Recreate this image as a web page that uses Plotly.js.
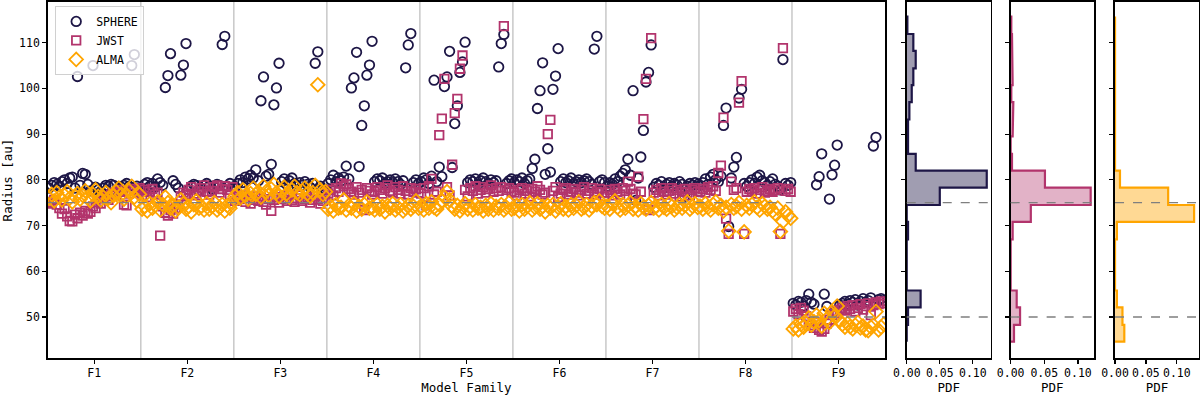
<!DOCTYPE html>
<html><head><meta charset="utf-8">
<script src="https://cdn.plot.ly/plotly-3.0.1.min.js"></script>
<style>body{margin:0;background:#fff}#chart{width:1200px;height:397px}</style>
</head><body><div id="chart"></div>
<script>
const families = ['F1','F2','F3','F4','F5','F6','F7','F8','F9'];
const modelsPerFamily = 36;

const sphere = [
 78.2,78.8,79.4,79.0,78.6,79.6,80.0,79.2,80.4,80.6,78.2,102.6,78.8,81.4,81.2,79.0,77.6,105.0,78.4,77.8,77.4,78.2,78.8,78.6,79.0,78.8,77.6,78.0,78.4,78.8,79.2,78.6,105.0,107.4,78.6,77.8,
 78.2,79.0,79.4,78.6,79.2,78.4,80.2,79.4,78.8,100.2,102.8,107.6,79.8,79.0,78.2,102.9,105.1,109.8,77.8,78.6,79.0,78.8,77.6,78.2,78.8,79.2,78.6,78.0,78.4,79.0,78.8,109.6,111.4,78.6,79.2,78.4,
 78.4,79.2,80.0,79.4,80.6,80.2,81.0,80.4,82.2,79.8,97.3,102.5,80.8,81.2,83.4,96.4,100.1,105.5,79.6,80.2,79.0,79.8,80.4,79.2,78.6,79.4,78.8,79.6,79.0,78.4,79.2,105.5,108.0,78.6,78.0,77.8,
 79.2,80.0,81.0,79.6,80.4,79.8,80.6,83.0,80.2,100.1,102.3,107.9,82.9,91.9,96.2,102.9,105.1,110.3,79.6,80.2,79.8,80.4,79.2,79.6,80.0,79.4,80.2,79.6,79.0,79.8,104.5,109.5,112.0,79.4,80.0,79.2,
 79.6,80.4,80.0,79.2,80.8,101.8,79.6,82.8,80.7,100.4,102.5,108.1,82.7,92.3,96.2,103.5,105.8,110.1,79.4,80.0,79.6,80.2,79.0,79.8,80.4,79.6,79.2,80.0,79.4,79.8,104.7,109.8,111.8,79.2,79.8,80.2,
 79.4,80.0,79.6,80.4,79.2,79.8,80.2,82.5,84.5,95.6,99.5,105.6,81.2,86.8,81.7,99.8,102.7,108.7,79.6,80.2,79.4,79.8,80.4,79.2,79.6,80.0,79.4,79.8,80.2,79.6,79.0,108.6,111.4,79.6,80.0,79.4,
 78.6,79.4,79.0,80.2,79.6,80.8,81.4,82.2,84.5,81.0,99.5,75.5,80.4,85.0,90.8,101.4,103.5,109.5,78.4,79.2,78.8,79.6,78.2,79.0,79.4,78.6,79.2,78.8,79.6,79.0,76.4,78.6,79.2,78.8,79.4,79.0,
 78.8,79.4,80.2,79.0,80.6,81.2,80.0,79.6,80.8,91.9,95.7,69.8,80.4,82.8,84.9,97.9,99.8,79.2,78.6,79.4,80.0,79.2,80.6,81.0,79.8,79.4,78.8,79.6,80.2,79.0,78.6,77.8,106.3,79.2,78.8,79.4,
 53.0,52.6,53.4,53.2,52.4,53.6,55.0,53.2,52.8,78.9,80.7,85.7,55.0,52.3,75.8,81.1,83.2,87.6,52.6,53.0,53.4,52.8,53.6,53.2,53.8,52.6,53.4,54.0,53.2,53.6,54.2,87.4,89.3,53.8,54.0,53.6
];
const jwst = [
 75.2,74.8,75.6,74.6,73.8,72.6,73.6,72.0,71.0,70.9,72.4,71.6,72.8,72.2,73.2,72.6,73.0,74.2,73.8,75.2,74.8,76.0,76.4,75.6,76.8,77.2,76.6,77.4,77.8,74.6,74.4,77.0,77.6,78.0,77.2,78.2,
 76.6,77.8,76.2,77.4,78.0,76.8,77.2,67.8,74.2,72.8,72.2,73.4,72.6,73.8,74.6,76.4,77.2,76.8,77.8,78.4,77.0,76.6,77.6,78.2,78.8,77.4,76.8,77.6,78.4,78.8,77.2,78.0,78.6,77.8,76.8,78.4,
 75.4,76.2,75.8,76.6,75.2,76.0,74.8,75.6,76.4,75.4,76.0,75.2,74.6,75.8,73.2,75.6,76.2,75.0,75.8,76.4,75.4,76.8,75.6,75.2,76.0,76.6,75.4,75.8,76.2,75.0,75.6,76.4,75.8,74.8,75.4,76.0,
 77.0,77.8,76.6,78.2,77.4,79.2,78.6,79.0,78.0,77.4,76.8,78.4,77.2,77.8,73.4,78.2,77.6,76.8,77.4,78.4,77.8,77.0,78.2,78.8,77.6,77.2,78.4,77.8,77.0,78.6,77.6,76.8,78.2,77.4,78.0,77.2,
 77.0,78.2,74.4,78.6,80.2,76.8,77.4,89.8,93.4,102.1,78.4,76.6,83.3,94.6,97.7,104.3,107.2,77.8,76.4,78.2,77.6,78.6,77.0,77.8,78.4,77.2,78.0,78.8,77.4,78.2,77.6,78.4,113.6,77.8,78.2,77.4,
 77.2,76.6,77.8,78.2,77.0,77.6,76.4,78.0,77.4,78.6,77.8,76.8,77.2,90.0,93.1,77.6,78.4,76.2,77.0,77.8,78.2,76.8,77.4,78.0,77.2,76.6,77.8,78.4,77.0,77.6,78.2,76.8,77.4,78.0,77.2,76.4,
 77.2,77.8,76.6,78.0,77.4,76.8,78.2,77.6,79.6,78.0,77.0,76.8,80.7,77.4,93.3,102.1,73.4,111.0,77.2,77.8,76.6,78.2,77.4,76.8,77.6,78.2,77.0,77.8,76.4,77.4,78.0,77.2,76.6,77.8,78.2,77.4,
 77.4,78.0,77.2,78.4,77.8,78.6,77.6,81.5,83.1,93.6,71.5,68.2,79.6,77.8,78.2,96.9,101.6,68.2,77.4,78.0,77.6,78.2,77.0,77.8,78.4,77.2,77.6,78.0,77.4,77.8,78.2,68.2,108.8,77.6,78.0,77.4,
 51.2,51.8,50.6,52.0,51.4,50.2,49.0,48.2,47.6,48.8,47.2,46.8,47.4,48.6,49.4,50.4,51.2,50.8,51.6,52.0,51.4,52.4,51.8,52.6,51.2,52.0,52.8,51.6,52.4,53.0,50.4,52.6,53.2,52.8,53.4,53.0
];
const alma = [
 76.0,76.8,75.4,77.2,76.2,75.6,76.6,77.4,76.0,75.2,76.4,77.0,75.8,76.6,77.6,76.2,75.4,76.8,77.8,76.4,75.6,76.2,77.2,76.0,75.0,76.6,77.4,78.2,76.8,75.8,76.4,77.6,78.6,76.2,75.4,76.8,
 73.6,74.2,73.2,74.8,73.8,74.4,75.2,73.4,74.6,76.2,75.0,73.8,74.4,73.2,74.0,75.6,74.8,73.6,74.2,73.0,74.6,75.4,73.8,74.2,73.4,74.8,73.6,74.2,75.0,73.4,74.0,74.6,73.2,74.4,73.8,75.0,
 76.4,77.2,76.0,77.8,76.6,75.8,77.0,78.2,76.8,77.4,76.2,78.6,77.4,76.6,78.0,79.0,77.2,76.4,77.6,78.4,77.0,76.2,77.8,78.6,77.2,76.8,77.6,78.2,77.0,76.4,77.2,78.8,100.8,77.8,76.8,77.4,
 73.6,74.2,73.2,74.6,73.8,74.0,75.6,73.4,74.4,73.8,74.8,73.2,74.2,73.6,74.6,75.2,73.8,74.0,73.4,74.6,73.6,74.2,73.0,74.4,73.8,74.8,73.4,74.0,74.6,73.2,73.8,74.4,73.6,74.2,75.4,73.8,
 74.2,73.4,74.8,73.8,75.2,74.0,73.6,74.6,75.4,76.2,77.4,75.6,74.2,73.6,74.4,73.2,74.0,74.8,73.6,74.2,73.4,74.6,73.8,74.0,73.2,74.4,73.6,74.8,73.4,74.2,73.8,74.6,73.4,74.0,75.0,73.6,
 73.8,74.4,73.2,74.6,73.6,74.2,75.0,73.4,74.0,74.8,73.6,74.2,73.0,74.4,73.8,74.6,73.2,74.0,74.8,73.6,74.2,73.4,74.6,73.8,74.4,75.2,73.6,74.0,74.6,73.4,74.2,75.0,74.6,75.4,74.2,73.8,
 74.2,73.6,74.8,75.4,74.0,73.4,74.6,73.8,74.4,75.0,73.6,74.2,73.4,74.8,74.0,73.6,74.4,75.0,73.8,74.2,73.4,74.6,74.0,73.6,74.8,74.2,73.4,74.0,74.6,73.8,74.4,75.2,73.6,74.2,74.8,74.0,
 74.2,73.6,74.8,74.0,73.4,74.6,75.2,73.8,74.4,73.2,74.0,68.8,74.6,73.8,74.2,75.0,73.6,68.6,74.4,73.8,74.6,75.2,74.0,73.4,74.8,74.2,73.6,74.0,73.2,72.6,73.8,68.7,70.9,73.0,72.2,71.6,
 47.4,48.0,47.2,48.4,47.8,48.6,49.8,48.2,49.0,50.4,49.2,48.0,50.8,49.6,48.8,51.2,50.2,52.4,49.2,48.4,47.8,48.6,47.9,47.4,48.2,48.8,47.6,48.0,47.2,47.0,47.8,48.2,51.2,47.2,47.8,48.4
];

// histogram (PDF) panels: shared bin edges, densities per bin (ascending radius)
const binEdges = [44.6,48.3,52.1,55.8,59.5,63.3,67.0,70.8,74.5,78.3,82.0,85.7,89.5,93.2,97.0,100.7,104.4,108.2,111.9,115.7];
const pdfSphere = [0,0.002,0.021,0,0,0,0.002,0,0.050,0.121,0.0136,0.002,0.002,0.004,0.0076,0.010,0.0136,0.010,0.001];
const pdfJwst   = [0.005,0.014,0.009,0,0,0,0.003,0.030,0.119,0.051,0.002,0,0.003,0.004,0.001,0.003,0.002,0.002,0.001];
const pdfAlma   = [0.015,0.012,0.003,0,0,0,0.003,0.128,0.086,0.008,0,0,0,0,0,0.001,0,0,0];

const refLevels = [75, 50];
const yTicks = [50,60,70,80,90,100,110];

const C_S = '#1d1646', C_J = '#b2346c', C_A = '#ffa500';
const FONT = 'DejaVu Sans Mono, monospace';

const xIdx = sphere.map((_, i) => i);
const nTot = families.length * modelsPerFamily;
const famCenters = families.map((_, f) => f * modelsPerFamily + (modelsPerFamily - 1) / 2);

function outline(edges, dens) {
  const xs = [0], ys = [edges[0]];
  for (let i = 0; i < dens.length; i++) {
    xs.push(dens[i], dens[i]);
    ys.push(edges[i], edges[i + 1]);
  }
  xs.push(0); ys.push(edges[edges.length - 1]);
  return {xs, ys};
}

const traces = [
  {x: xIdx, y: sphere, name: 'SPHERE', legendgroup: 's', type: 'scatter', mode: 'markers', xaxis: 'x', yaxis: 'y',
   marker: {symbol: 'circle-open', size: 9.5, color: C_S, line: {width: 1.8, color: C_S}}},
  {x: xIdx, y: jwst, name: 'JWST', legendgroup: 'j', type: 'scatter', mode: 'markers', xaxis: 'x', yaxis: 'y',
   marker: {symbol: 'square-open', size: 8.5, color: C_J, line: {width: 1.8, color: C_J}}},
  {x: xIdx, y: alma, name: 'ALMA', legendgroup: 'a', type: 'scatter', mode: 'markers', xaxis: 'x', yaxis: 'y',
   marker: {symbol: 'diamond-open', size: 10.5, color: C_A, line: {width: 1.8, color: C_A}}}
];
const histSpecs = [
  {d: pdfSphere, c: C_S, f: 'rgba(29,22,70,0.42)', ax: '2'},
  {d: pdfJwst, c: C_J, f: 'rgba(178,52,108,0.38)', ax: '3'},
  {d: pdfAlma, c: C_A, f: 'rgba(255,165,0,0.42)', ax: '4'}
];
histSpecs.forEach(h => {
  const o = outline(binEdges, h.d);
  traces.push({x: o.xs, y: o.ys, type: 'scatter', mode: 'lines', fill: 'toself', fillcolor: h.f,
    line: {color: h.c, width: 2.2}, showlegend: false, hoverinfo: 'skip',
    xaxis: 'x' + h.ax, yaxis: 'y' + h.ax});
});

const yRange = [41.03, 118.9];
const yDom = [0.0982, 0.995];
const baseAxis = {showline: true, mirror: true, linecolor: '#000', linewidth: 1.6, showgrid: false, zeroline: false,
  ticks: 'outside', ticklen: 4, tickwidth: 1.2, tickcolor: '#000', automargin: false,
  tickfont: {family: FONT, size: 11.5, color: '#000'}};

const shapes = [];
for (let f = 1; f < families.length; f++) {
  shapes.push({type: 'line', xref: 'x', yref: 'y domain', x0: f * modelsPerFamily - 0.5, x1: f * modelsPerFamily - 0.5,
    y0: 0, y1: 1, line: {color: '#c8c8c8', width: 1.5}, layer: 'below'});
}
const split = (families.length - 1) * modelsPerFamily - 0.5;
shapes.push({type: 'line', xref: 'x', yref: 'y', x0: -0.5, x1: split, y0: refLevels[0], y1: refLevels[0],
  line: {color: '#7f7f7f', width: 1.3, dash: 'dash'}});
shapes.push({type: 'line', xref: 'x', yref: 'y', x0: split, x1: nTot - 0.5, y0: refLevels[1], y1: refLevels[1],
  line: {color: '#7f7f7f', width: 1.3, dash: 'dash'}});
['2','3','4'].forEach(a => refLevels.forEach(v => shapes.push({type: 'line', xref: 'x' + a + ' domain', yref: 'y' + a,
  x0: 0, x1: 1, y0: v, y1: v, line: {color: '#7f7f7f', width: 1.3, dash: 'dash'}})));

const histX = (dom, maxv) => Object.assign({}, baseAxis, {domain: dom, range: [0, maxv], tickvals: [0, 0.05, 0.1],
  tickformat: '.2f', title: {text: 'PDF', font: {family: FONT, size: 12.5, color: '#000'}, standoff: 2}});
const histY = (anchor) => Object.assign({}, baseAxis, {domain: yDom, range: yRange, tickvals: yTicks, showticklabels: false, anchor: anchor});

const layout = {
  width: 1200, height: 397, margin: {l: 0, r: 0, t: 0, b: 0},
  paper_bgcolor: '#fff', plot_bgcolor: '#fff',
  font: {family: FONT, size: 11.5, color: '#000'},
  xaxis: Object.assign({}, baseAxis, {domain: [0.0398, 0.7375], range: [-0.5, nTot - 0.5],
    tickvals: famCenters, ticktext: families,
    title: {text: 'Model Family', font: {family: FONT, size: 12.5, color: '#000'}, standoff: 2}}),
  yaxis: Object.assign({}, baseAxis, {domain: yDom, range: yRange, tickvals: yTicks,
    title: {text: 'Radius [au]', font: {family: FONT, size: 12.5, color: '#000'}, standoff: 7}}),
  xaxis2: Object.assign(histX([0.7556, 0.8256], 0.127), {anchor: 'y2'}),
  yaxis2: histY('x2'),
  xaxis3: Object.assign(histX([0.8422, 0.9117], 0.124), {anchor: 'y3'}),
  yaxis3: histY('x3'),
  xaxis4: Object.assign(histX([0.9292, 0.9992], 0.136), {anchor: 'y4'}),
  yaxis4: histY('x4'),
  shapes: shapes,
  showlegend: true,
  legend: {x: 0.046, y: 0.985, xanchor: 'left', yanchor: 'top', bgcolor: 'rgba(255,255,255,0.8)',
    bordercolor: '#d0d0d0', borderwidth: 1, font: {family: FONT, size: 11.5, color: '#000'},
    itemwidth: 30, tracegroupgap: 0}
};

Plotly.newPlot('chart', traces, layout, {displayModeBar: false, staticPlot: true});
</script>
</body></html>
